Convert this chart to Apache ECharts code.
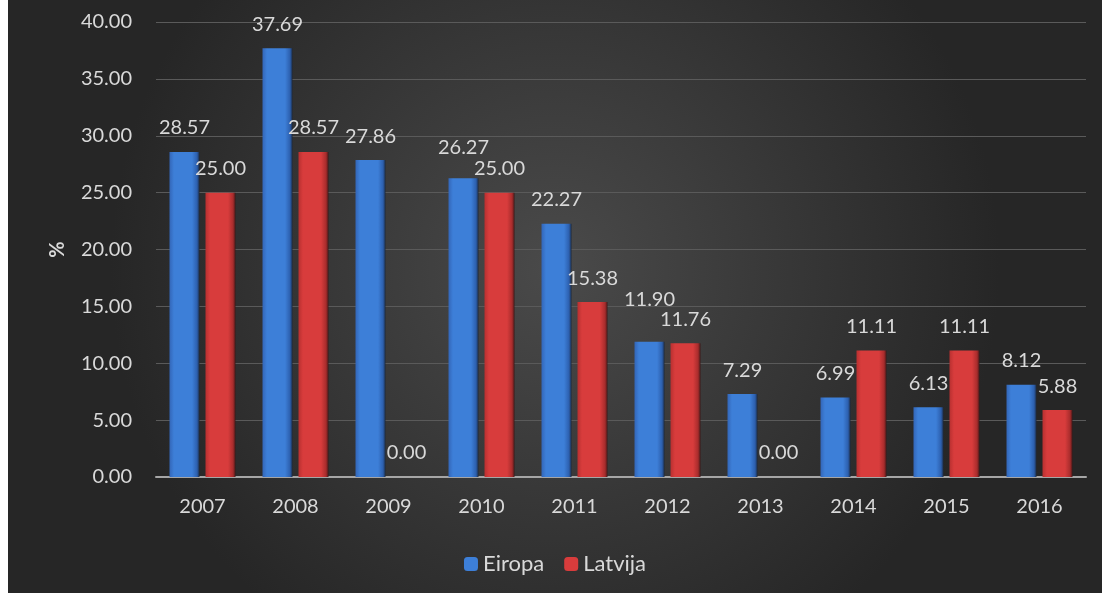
<!DOCTYPE html>
<html><head><meta charset="utf-8">
<script src="https://cdn.jsdelivr.net/npm/echarts@6/dist/echarts.min.js"></script>
<style>
html,body{margin:0;padding:0;background:#fff;}
#c{position:absolute;left:8px;top:0;width:1094px;height:593px;}
</style></head>
<body><div id="c"></div>
<script>
const categories = ['2007','2008','2009','2010','2011','2012','2013','2014','2015','2016'];
const eiropa = [28.57, 37.69, 27.86, 26.27, 22.27, 11.90, 7.29, 6.99, 6.13, 8.12];
const latvija = [25.00, 28.57, 0.00, 25.00, 15.38, 11.76, 0.00, 11.11, 11.11, 5.88];
const yTicks = [0,5,10,15,20,25,30,35,40];

// extra upward nudge for labels that Excel moved to avoid overlap
const nudgeE = {3: -7, 5: -18};

const txt = '#d9d9d9';
const font = 'Lato, "Open Sans", sans-serif';

function grad(l, m, r, edge){
  return {type:'linear',x:0,y:0,x2:1,y2:0,colorStops:[
    {offset:0,color:l},{offset:0.15,color:m},{offset:0.75,color:m},{offset:0.92,color:r},{offset:1,color:edge}]};
}
const blueFill = grad('#3366b8','#3d7fd8','#2c5fae','#1c2a40');
const redFill = grad('#b83030','#d83c3c','#a82c2c','#401818');

const labelBase = {show:true, position:'top', distance:14, color:txt, fontFamily:font, fontSize:20,
  formatter: p => p.value.toFixed(2)};

const chart = echarts.init(document.getElementById('c'));
chart.setOption({
  backgroundColor: {type:'radial', x:0.5, y:0.45, r:0.75, colorStops:[
    {offset:0,color:'#4a4a4a'},{offset:1,color:'#262626'}]},
  animation:false,
  grid:{left:148, right:16, top:22, bottom:116},
  legend:{bottom:13, left:'center', itemWidth:14, itemHeight:14, itemGap:20,
    textStyle:{color:txt, fontFamily:font, fontSize:22},
    data:[{name:'Eiropa', itemStyle:{color:'#3d7fd8'}},{name:'Latvija', itemStyle:{color:'#d83c3c'}}]},
  xAxis:{type:'category', data:categories,
    axisLine:{lineStyle:{color:'#a6a6a6', width:2}}, axisTick:{show:false},
    axisLabel:{color:txt, fontFamily:font, fontSize:20, margin:20}},
  yAxis:{type:'value', min:yTicks[0], max:yTicks[yTicks.length-1], interval:5,
    name:'%', nameLocation:'middle', nameGap:88, nameRotate:90,
    nameTextStyle:{color:txt, fontFamily:font, fontSize:20, fontWeight:'bold'},
    axisLine:{show:false}, axisTick:{show:false},
    splitLine:{lineStyle:{color:'#5a5a5a', width:1}},
    axisLabel:{color:txt, fontFamily:font, fontSize:20, margin:24, formatter:v=>v.toFixed(2)}},
  series:[
    {name:'Eiropa', type:'bar', barWidth:30, barGap:'20%',
     itemStyle:{color:blueFill},
     label:labelBase,
     data: eiropa.map((v,i)=> nudgeE[i] ? {value:v, label:{offset:[0,nudgeE[i]]}} : v)},
    {name:'Latvija', type:'bar', barWidth:30, barGap:'20%',
     itemStyle:{color:redFill},
     label:labelBase,
     data: latvija}
  ]
});
</script></body></html>
